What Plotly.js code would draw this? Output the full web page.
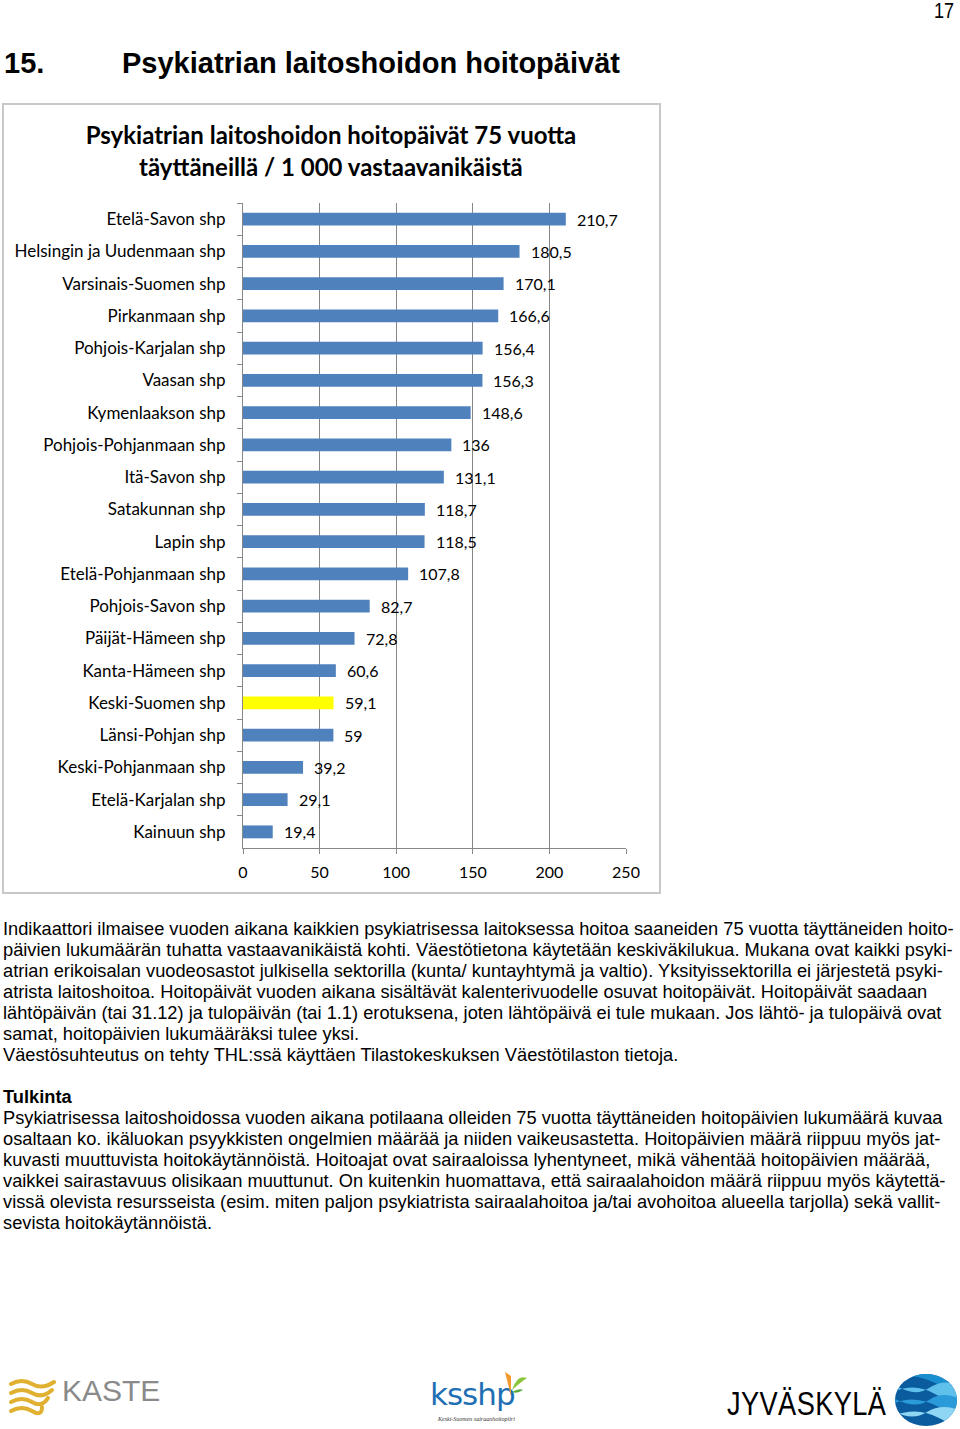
<!DOCTYPE html>
<html><head><meta charset="utf-8">
<script src="https://cdn.plot.ly/plotly-3.0.1.min.js"></script>
<style>
body{margin:0;width:960px;height:1429px;position:relative;background:#fff;overflow:hidden;font-family:"Liberation Sans",Arial,sans-serif;color:#000}
.n{position:absolute;transform-origin:0 0;white-space:nowrap}
.p{font-size:18.25px;line-height:21px}
#box{position:absolute;left:2px;top:103px;width:659px;height:791px;border:2px solid #c8c8c8;box-sizing:border-box}
#chart{position:absolute;left:0;top:0;width:655px;height:787px}
</style></head>
<body>
<div class="n" style="left:934px;top:0px;font-size:22px;line-height:22px;transform:scaleX(0.82)">17</div>
<div class="n" style="left:4px;top:46px;font-size:29px;line-height:34px;font-weight:bold">15.</div>
<div class="n" style="left:122px;top:46px;font-size:29px;line-height:34px;font-weight:bold">Psykiatrian laitoshoidon hoitopäivät</div>

<div id="box"><div id="chart"></div></div>

<div class="n p" style="left:3px;top:918px">Indikaattori ilmaisee vuoden aikana kaikkien psykiatrisessa laitoksessa hoitoa saaneiden 75 vuotta täyttäneiden hoito-<br>päivien lukumäärän tuhatta vastaavanikäistä kohti. Väestötietona käytetään keskiväkilukua. Mukana ovat kaikki psyki-<br>atrian erikoisalan vuodeosastot julkisella sektorilla (kunta/ kuntayhtymä ja valtio). Yksityissektorilla ei järjestetä psyki-<br>atrista laitoshoitoa. Hoitopäivät vuoden aikana sisältävät kalenterivuodelle osuvat hoitopäivät. Hoitopäivät saadaan<br>lähtöpäivän (tai 31.12) ja tulopäivän (tai 1.1) erotuksena, joten lähtöpäivä ei tule mukaan. Jos lähtö- ja tulopäivä ovat<br>samat, hoitopäivien lukumääräksi tulee yksi.<br>Väestösuhteutus on tehty THL:ssä käyttäen Tilastokeskuksen Väestötilaston tietoja.</div>

<div class="n p" style="left:3px;top:1086px"><b>Tulkinta</b><br>Psykiatrisessa laitoshoidossa vuoden aikana potilaana olleiden 75 vuotta täyttäneiden hoitopäivien lukumäärä kuvaa<br>osaltaan ko. ikäluokan psyykkisten ongelmien määrää ja niiden vaikeusastetta. Hoitopäivien määrä riippuu myös jat-<br>kuvasti muuttuvista hoitokäytännöistä. Hoitoajat ovat sairaaloissa lyhentyneet, mikä vähentää hoitopäivien määrää,<br>vaikkei sairastavuus olisikaan muuttunut. On kuitenkin huomattava, että sairaalahoidon määrä riippuu myös käytettä-<br>vissä olevista resursseista (esim. miten paljon psykiatrista sairaalahoitoa ja/tai avohoitoa alueella tarjolla) sekä vallit-<br>sevista hoitokäytännöistä.</div>

<!-- logos -->
<svg style="position:absolute;left:8px;top:1376px" width="50" height="44" viewBox="0 0 50 44">
 <g fill="none" stroke="#e0b030" stroke-width="4" stroke-linecap="round">
  <path d="M3 8 Q14 2 24 8 T46 6"/>
  <path d="M3 17 Q14 11 24 17 T44 14"/>
  <path d="M3 26 Q14 20 24 26 T40 22"/>
  <path d="M3 35 Q14 29 24 35 T34 31"/>
 </g>
</svg>
<div style="position:absolute;left:62px;top:1374px;font-family:'Liberation Sans';font-size:30px;color:#8a8a8a">KASTE</div>

<div style="position:absolute;left:430px;top:1376px;font-family:'DejaVu Sans';font-size:31px;color:#1f6fb5;letter-spacing:-1px">ksshp</div>
<svg style="position:absolute;left:503px;top:1370px" width="26" height="28" viewBox="0 0 26 28">
 <path d="M8 26 L8 6 L2 2 Z" fill="#f29a2e"/>
 <path d="M9 20 Q14 4 24 8 Q18 12 9 20 Z" fill="#8cc63f"/>
 <path d="M9 22 Q16 18 20 20 Q14 24 9 22 Z" fill="#5aaa3a"/>
</svg>
<div style="position:absolute;left:438px;top:1416px;font-family:'Liberation Serif';font-style:italic;font-size:6px;color:#333">Keski-Suomen sairaanhoitopiiri</div>

<div class="n" style="left:727px;top:1384px;font-size:34px;line-height:38px;transform:scaleX(0.8);letter-spacing:0.5px">JYVÄSKYLÄ</div>
<svg style="position:absolute;left:893px;top:1372px" width="66" height="56" viewBox="0 0 66 56">
 <defs><clipPath id="c"><ellipse cx="33" cy="28" rx="31" ry="26"/></clipPath></defs>
 <g clip-path="url(#c)">
  <rect x="0" y="0" width="66" height="56" fill="#0b5c9e"/>
  <path d="M0 8 Q20 0 40 10 T70 8 L70 0 L0 0Z" fill="#1a8fd0"/>
  <path d="M0 20 Q22 10 42 22 T70 22 L70 14 Q50 6 36 16 T0 12Z" fill="#5fc0ec"/>
  <path d="M0 32 Q20 22 44 34 T70 34 L70 28 Q50 18 36 28 T0 26Z" fill="#2a9ad8"/>
  <path d="M0 44 Q24 34 46 46 T70 46 L70 40 Q50 30 34 40 T0 38Z" fill="#8fd6f4"/>
 </g>
</svg>

<script>
var categories = ["Etelä-Savon shp","Helsingin ja Uudenmaan shp","Varsinais-Suomen shp","Pirkanmaan shp","Pohjois-Karjalan shp","Vaasan shp","Kymenlaakson shp","Pohjois-Pohjanmaan shp","Itä-Savon shp","Satakunnan shp","Lapin shp","Etelä-Pohjanmaan shp","Pohjois-Savon shp","Päijät-Hämeen shp","Kanta-Hämeen shp","Keski-Suomen shp","Länsi-Pohjan shp","Keski-Pohjanmaan shp","Etelä-Karjalan shp","Kainuun shp"];
var values = [210.7,180.5,170.1,166.6,156.4,156.3,148.6,136,131.1,118.7,118.5,107.8,82.7,72.8,60.6,59.1,59,39.2,29.1,19.4];
var highlight = "Keski-Suomen shp";
var xTicks = [0,50,100,150,200,250];
var chartTitle = ["Psykiatrian laitoshoidon hoitopäivät 75 vuotta","täyttäneillä / 1 000 vastaavanikäistä"];

var F = "Lato, 'Open Sans', sans-serif";
var colors = categories.map(function(c){return c===highlight ? "#ffff00" : "#4f81bd";});
var labels = values.map(function(v){return String(v).replace(".", ",");});

var trace = {
  type:"bar", orientation:"h", x:values, y:categories,
  marker:{color:colors, line:{width:0}}, hoverinfo:"skip"
};
var annotations = values.map(function(v,i){
  return {x:v, y:categories[i], xref:"x", yref:"y", text:labels[i], showarrow:false,
          xanchor:"left", yanchor:"middle", xshift:9, font:{family:F,size:16,color:"#000"}};
});
var layout = {
  width:655, height:787,
  margin:{l:239, r:33, t:98, b:44},
  paper_bgcolor:"#fff", plot_bgcolor:"#fff",
  showlegend:false, bargap:0.6,
  title:{text:chartTitle.join("<br>"), x:0.4992, xanchor:"center", xref:"container", y:0.95, yref:"container", yanchor:"middle",
         font:{family:F, size:24, color:"#000", weight:"bold"}},
  xaxis:{range:[0,250], tickvals:xTicks, ticktext:xTicks.map(String), showgrid:true, gridcolor:"#878787", gridwidth:1,
         zeroline:false, showline:true, linecolor:"#878787", linewidth:1, ticks:"outside", ticklen:5, tickcolor:"#878787",
         ticklabelstandoff:5, tickfont:{family:F,size:16,color:"#000"}, fixedrange:true},
  yaxis:{type:"category", autorange:"reversed", showgrid:false, zeroline:false, showline:true, linecolor:"#878787", linewidth:1,
         ticks:"outside", ticklen:5, tickcolor:"#878787", tickson:"boundaries", ticklabelstandoff:13,
         tickfont:{family:F,size:17,color:"#000"}, fixedrange:true},
  annotations:annotations
};
Plotly.newPlot("chart",[trace],layout,{staticPlot:true,displayModeBar:false});
</script>
</body></html>
